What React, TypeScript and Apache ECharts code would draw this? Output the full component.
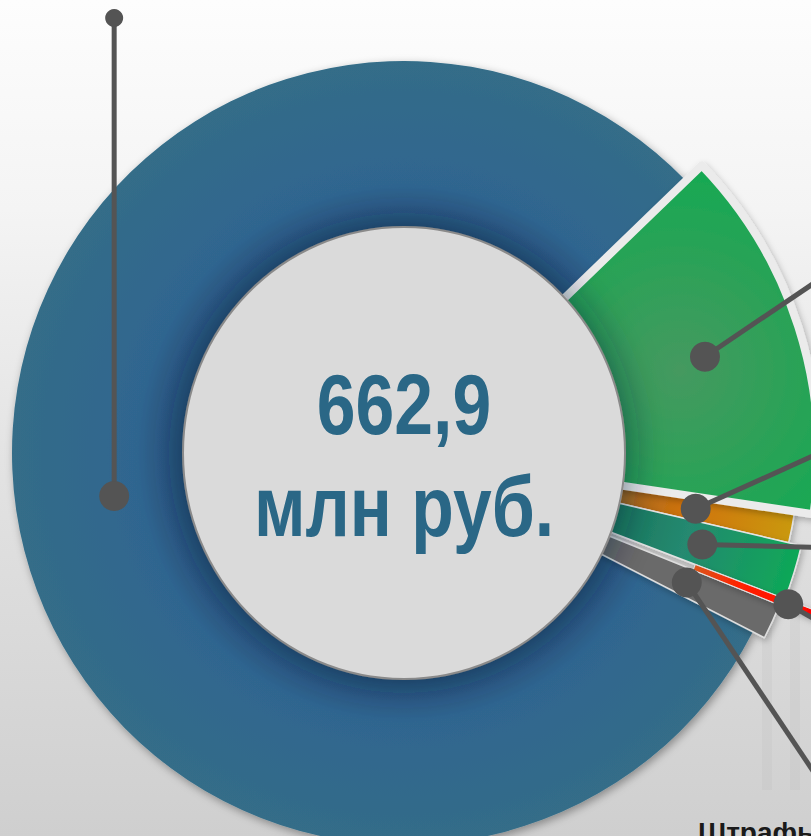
import React, { useEffect, useRef } from "react";
import * as echarts from "echarts";

// ---- data ----
const categories = ["Статья 1", "Статья 2", "Статья 3", "Статья 4", "Штрафы", "Статья 6"];
const values = [96.7, 8.5, 14.4, 2.0, 9.4, 531.9];
const totalLabel = "662,9";
const unitLabel = "млн руб.";
const footLabel = "Штрафы";

// ---- layout / style ----
const W = 811;
const H = 836;
const CX = 404;
const CY = 453;
const START = 44;
const G: any = (echarts as any).graphic;

const sliceStyles = [
  { r0: 200, r: 414, fill: new G.RadialGradient(680, 370, 230, [{ offset: 0, color: "#45995f" }, { offset: 1, color: "#10ab50" }], true), bw: 8, bc: "#ebebeb" },
  { r0: 200, r: 395, fill: new G.RadialGradient(CX, CY, 400, [{ offset: 0.55, color: "#a86a1e" }, { offset: 0.72, color: "#d0720c" }, { offset: 1, color: "#c99a0a" }], true), bw: 1.5, bc: "#e4e4e4" },
  { r0: 200, r: 408, fill: new G.RadialGradient(CX, CY, 410, [{ offset: 0.55, color: "#1a7a5f" }, { offset: 0.72, color: "#258970" }, { offset: 1, color: "#0ea857" }], true), bw: 1.5, bc: "#e4e4e4" },
  { r0: 312, r: 450, fill: new G.RadialGradient(CX, CY, 450, [{ offset: 0.69, color: "#d8581c" }, { offset: 0.8, color: "#ff2200" }, { offset: 1, color: "#ff0000" }], true), bw: 1, bc: "#e4e4e4" },
  { r0: 200, r: 405, fill: "#6a6a6a", bw: 1.5, bc: "#dedede" },
  { r0: 200, r: 392, fill: new G.RadialGradient(CX, CY, 392, [{ offset: 0.56, color: "#2a537c" }, { offset: 0.68, color: "#2f6590" }, { offset: 1, color: "#346d88" }], true), bw: 0, bc: "#e4e4e4" },
];
const drawOrder = [5, 1, 2, 4, 3, 0];

// leader lines: distance of dot from centre, vector of the line from the dot
const leaders = [
  { pr: 316, dx: 160, dy: -108 },
  { pr: 297, dx: 162, dy: -73 },
  { pr: 312, dx: 150, dy: 4 },
  { pr: 413, dx: 60, dy: 34 },
  { pr: 311, dx: 150, dy: 224 },
  { pr: 293, dx: 0, dy: 0, toY: 18 },
];
const LINE = "#545454";
const TEXT_BLUE = "#2a6786";

export default function App() {
  const ref = useRef<HTMLDivElement>(null);
  useEffect(() => {
    if (!ref.current) return;
    const chart = echarts.init(ref.current, null, { renderer: "svg" });
    const series = drawOrder.map((k) => ({
      type: "pie",
      center: [CX, CY],
      radius: [sliceStyles[k].r0, sliceStyles[k].r],
      startAngle: START,
      clockwise: true,
      silent: true,
      label: { show: false },
      labelLine: { show: false },
      emphasis: { disabled: true },
      data: categories.map((name, i) => ({
        name,
        value: values[i],
        itemStyle:
          i === k
            ? {
                color: sliceStyles[k].fill,
                borderWidth: sliceStyles[k].bw,
                borderColor: sliceStyles[k].bc,
                shadowBlur: k === 5 ? 8 : 6,
                shadowColor: k === 5 ? "rgba(0,0,0,0.35)" : "rgba(0,0,0,0.25)",
                shadowOffsetX: 2,
                shadowOffsetY: 3,
              }
            : { color: "transparent", borderWidth: 0 },
      })),
    }));
    chart.setOption({ animation: false, backgroundColor: "transparent", series });

    // read slice angles computed by the pie layout
    const model: any = (chart as any).getModel();
    const data = model.getSeriesByIndex(0).getData();
    const bigFont = 'bold 85px "Liberation Sans", Arial, sans-serif';
    const els: any[] = [
      { type: "rect", z: 1, shape: { x: 762, y: 560, width: 10, height: 230 }, style: { fill: "rgba(0,0,0,0.025)" } },
      { type: "rect", z: 1, shape: { x: 790, y: 598, width: 10, height: 192 }, style: { fill: "rgba(0,0,0,0.025)" } },
      {
        type: "ellipse",
        z: 10,
        shape: { cx: CX, cy: CY, rx: 221, ry: 226 },
        style: { fill: "#dadada", stroke: "#8a8a8a", lineWidth: 2, shadowBlur: 40, shadowColor: "rgba(15,35,60,0.6)" },
      },
      {
        type: "text",
        z: 11,
        x: CX,
        y: 404,
        scaleX: 0.82,
        style: { text: totalLabel, font: bigFont, fill: TEXT_BLUE, align: "center", verticalAlign: "middle" },
      },
      {
        type: "text",
        z: 11,
        x: CX,
        y: 506,
        scaleX: 0.82,
        style: { text: unitLabel, font: bigFont, fill: TEXT_BLUE, align: "center", verticalAlign: "middle" },
      },
      {
        type: "text",
        z: 11,
        x: 698,
        y: 832,
        style: { text: footLabel, font: 'bold 28px "Liberation Sans", Arial, sans-serif', fill: "#1a1a1a", align: "left", verticalAlign: "middle" },
      },
    ];
    categories.forEach((_, i) => {
      const lay = data.getItemLayout(i);
      if (!lay) return;
      const mid = (lay.startAngle + lay.endAngle) / 2;
      const L = leaders[i];
      const x = lay.cx + L.pr * Math.cos(mid);
      const y = lay.cy + L.pr * Math.sin(mid);
      const x2 = x + L.dx;
      const y2 = L.toY !== undefined ? L.toY : y + L.dy;
      els.push({ type: "line", z: 20, shape: { x1: x, y1: y, x2, y2 }, style: { stroke: LINE, lineWidth: 5 } });
      els.push({ type: "circle", z: 21, shape: { cx: x, cy: y, r: 15 }, style: { fill: LINE } });
      if (L.toY !== undefined) {
        els.push({ type: "circle", z: 21, shape: { cx: x2, cy: y2, r: 9 }, style: { fill: LINE } });
      }
    });
    chart.setOption({ graphic: { elements: els } });
    return () => chart.dispose();
  }, []);
  return (
    <div
      ref={ref}
      style={{
        position: "fixed",
        left: 0,
        top: 0,
        width: W,
        height: H,
        overflow: "hidden",
        background: "linear-gradient(to bottom, #fdfdfd 0%, #f4f4f4 25%, #e3e3e3 55%, #cfcfcf 100%)",
      }}
    />
  );
}
